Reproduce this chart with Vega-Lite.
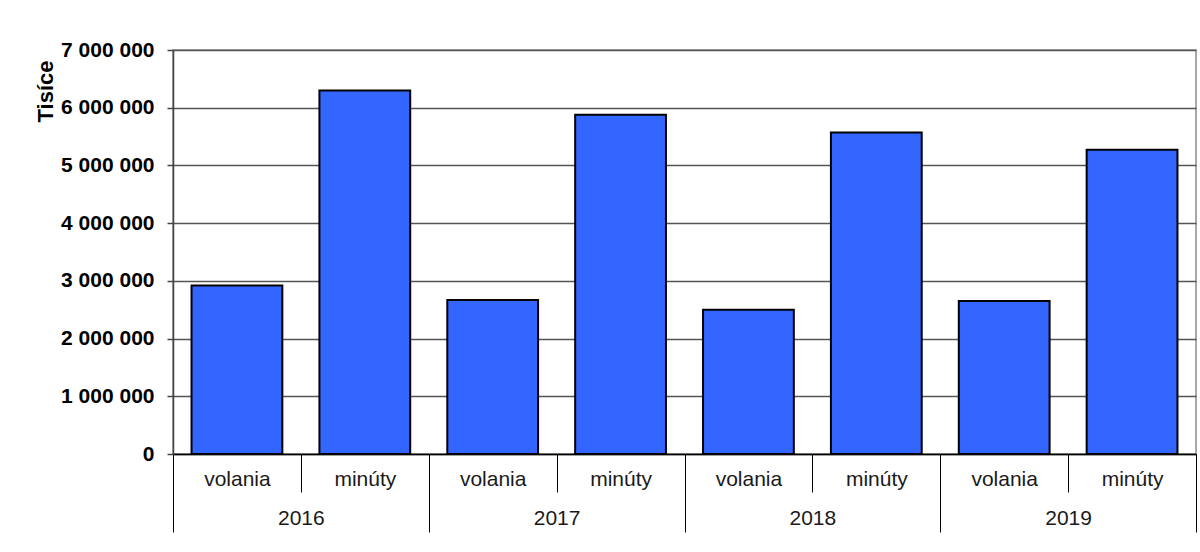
{
  "$schema": "https://vega.github.io/schema/vega-lite/v6.json",
  "width": 1023,
  "height": 404,
  "autosize": {"type": "none"},
  "padding": {"left": 173, "top": 50, "right": 4, "bottom": 98},
  "background": "white",
  "config": {
    "locale": {"number": {"decimal": ",", "thousands": " ", "grouping": [3], "currency": ["", ""]}},
    "font": "Liberation Sans",
    "view": {"stroke": "#8c8c8c", "strokeWidth": 1.5}
  },
  "data": {
    "values": [
      {"year": "2016", "type": "volania", "key": "2016|volania", "value": 2920000},
      {"year": "2016", "type": "minúty", "key": "2016|minúty", "value": 6300000},
      {"year": "2017", "type": "volania", "key": "2017|volania", "value": 2670000},
      {"year": "2017", "type": "minúty", "key": "2017|minúty", "value": 5880000},
      {"year": "2018", "type": "volania", "key": "2018|volania", "value": 2500000},
      {"year": "2018", "type": "minúty", "key": "2018|minúty", "value": 5570000},
      {"year": "2019", "type": "volania", "key": "2019|volania", "value": 2650000},
      {"year": "2019", "type": "minúty", "key": "2019|minúty", "value": 5270000}
    ]
  },
  "layer": [
    {
      "mark": {"type": "bar", "fill": "#3366FF", "stroke": "#000000", "strokeWidth": 2, "width": {"band": 0.71}},
      "encoding": {
        "x": {
          "field": "key", "type": "nominal", "sort": null,
          "scale": {"paddingInner": 0, "paddingOuter": 0},
          "axis": {
            "orient": "bottom", "title": null,
            "labelExpr": "split(datum.value, '|')[1]",
            "labelAngle": 0, "labelFontSize": 21, "labelColor": "#1a1a1a",
            "labelBaseline": "middle", "labelPadding": -13,
            "tickBand": "extent", "tickSize": 38, "tickColor": "#000000", "tickWidth": 1,
            "domainColor": "#000000", "domainWidth": 1.5, "grid": false
          }
        },
        "y": {
          "field": "value", "type": "quantitative",
          "scale": {"domain": [0, 7000000], "nice": false},
          "axis": {
            "title": "Tisíce", "titleFontSize": 22, "titleFontWeight": "bold", "titleColor": "#000000",
            "titleAngle": 270, "titleX": -128, "titleY": 41, "titleAlign": "center", "titleBaseline": "middle",
            "values": [0, 1000000, 2000000, 3000000, 4000000, 5000000, 6000000, 7000000],
            "format": ",d",
            "labelFontSize": 21, "labelFontWeight": "bold", "labelColor": "#000000", "labelPadding": 13,
            "tickSize": 6, "tickColor": "#444444", "tickWidth": 1.5,
            "domainColor": "#444444", "domainWidth": 1.5,
            "grid": true, "gridColor": "#555555", "gridWidth": 1.5
          }
        }
      }
    },
    {
      "mark": {"type": "point", "opacity": 0},
      "encoding": {
        "x": {
          "field": "year", "type": "nominal",
          "scale": {"paddingInner": 0, "paddingOuter": 0},
          "axis": {
            "orient": "bottom", "title": null,
            "labelAngle": 0, "labelFontSize": 21, "labelColor": "#1a1a1a",
            "labelBaseline": "middle", "labelPadding": -14,
            "tickBand": "extent", "tickSize": 78, "tickColor": "#000000", "tickWidth": 1,
            "domain": false, "grid": false
          }
        }
      }
    }
  ],
  "resolve": {"scale": {"x": "independent"}, "axis": {"x": "independent"}}
}
